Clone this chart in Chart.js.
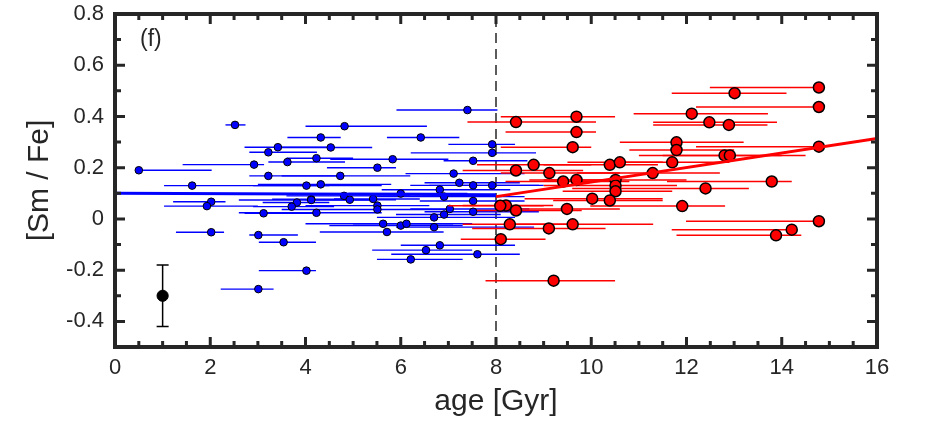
<!DOCTYPE html>
<html>
<head>
<meta charset="utf-8">
<script src="https://cdn.jsdelivr.net/npm/chart.js@4.4.1/dist/chart.umd.min.js"></script>
<style>
  html, body { margin: 0; padding: 0; background: #fff; }
  #wrap { width: 928px; height: 429px; }
</style>
</head>
<body>
<div id="wrap"><canvas id="ismfe" width="928" height="429"></canvas></div>
<script>
// Thin disc stars (age < 8 Gyr)
const blueAge = [2.52, 3.42, 3.22, 2.92, 3.62, 3.22, 1.62, 0.50, 4.02, 2.02, 1.93, 3.82, 4.12, 3.71, 3.12, 2.02, 3.01, 3.54, 4.02, 3.01,
                 4.23, 7.40, 4.82, 4.32, 6.42, 4.53, 7.92, 7.92, 5.83, 7.52, 5.51, 4.73, 7.11, 4.32, 7.23, 7.52, 7.92, 6.82, 6.00, 4.81,
                 4.93, 5.42, 5.51, 5.51, 4.12, 6.91, 7.52, 7.03, 6.91, 7.52, 4.23, 6.70, 5.63, 6.00, 6.12, 6.70, 5.71, 6.82, 6.53, 7.61, 6.21];
const blueFe = [0.367, 0.280, 0.260, 0.212, 0.222, 0.168, 0.130, 0.190, 0.130, 0.067, 0.050, 0.064, 0.077, 0.048, 0.022, -0.052, -0.063, -0.091, -0.202, -0.274,
                0.237, 0.425, 0.362, 0.318, 0.318, 0.279, 0.291, 0.258, 0.233, 0.227, 0.200, 0.168, 0.177, 0.135, 0.141, 0.131, 0.131, 0.114, 0.099, 0.090,
                0.075, 0.078, 0.052, 0.037, 0.074, 0.087, 0.070, 0.039, 0.017, 0.028, 0.024, 0.006, -0.019, -0.026, -0.019, -0.032, -0.051, -0.103, -0.122, -0.138, -0.158];
const blueAgeLo = [2.32, 2.72, 2.82, 1.42, 3.22, 2.82, 1.03, 0.50, 2.90, 1.22, 1.03, 3.10, 3.30, 2.90, 2.72, 1.28, 2.82, 3.02, 3.02, 2.22,
                   3.60, 5.91, 4.00, 3.62, 5.71, 3.50, 7.00, 6.21, 4.52, 6.90, 4.45, 3.50, 6.10, 3.00, 6.50, 6.20, 6.60, 5.60, 4.90, 3.60,
                   4.00, 4.60, 4.00, 3.50, 2.60, 5.50, 6.40, 6.20, 5.90, 6.50, 2.60, 5.50, 4.00, 4.50, 5.00, 5.90, 4.30, 6.00, 5.40, 5.80, 5.50];
const blueAgeHi = [2.74, 4.62, 4.24, 3.13, 4.83, 4.71, 4.50, 2.03, 5.60, 2.32, 3.00, 4.50, 5.00, 4.60, 4.24, 2.29, 3.84, 4.22, 4.22, 3.33,
                   5.00, 8.03, 6.55, 4.74, 7.23, 5.40, 8.40, 8.84, 7.00, 8.66, 5.90, 6.20, 8.60, 5.80, 8.50, 8.90, 9.00, 8.30, 7.40, 6.20,
                   5.90, 6.40, 6.60, 7.00, 5.40, 8.60, 8.60, 8.70, 8.10, 8.90, 5.60, 8.40, 7.50, 7.30, 7.10, 8.80, 6.90, 8.40, 7.50, 8.50, 7.30];

// Thick disc stars (age > 8 Gyr)
const redAge = [9.69, 8.42, 9.69, 9.61, 8.79, 8.42, 9.12, 9.41, 9.69, 10.39, 10.60, 10.51, 10.51, 10.51, 10.02, 10.39, 11.29, 11.70, 11.79, 11.79,
                8.21, 8.42, 8.09, 9.49, 8.29, 9.11, 9.61, 8.10, 9.21, 11.91, 14.78, 13.01, 14.78, 12.11, 12.48, 12.89, 14.78, 12.80, 12.91, 13.79,
                12.40, 14.78, 14.21, 13.88];
const redFe = [0.399, 0.378, 0.339, 0.280, 0.211, 0.189, 0.179, 0.146, 0.152, 0.211, 0.221, 0.152, 0.130, 0.108, 0.079, 0.072, 0.179, 0.221, 0.299, 0.269,
               0.052, 0.033, 0.051, 0.039, -0.021, -0.037, -0.021, -0.079, -0.241, 0.050, 0.513, 0.491, 0.437, 0.411, 0.377, 0.367, 0.282, 0.248, 0.248, 0.146,
               0.119, -0.009, -0.042, -0.064];
const redAgeLo = [8.10, 7.40, 8.20, 8.10, 7.60, 7.30, 8.10, 8.20, 8.70, 9.00, 9.50, 9.00, 9.00, 9.40, 8.60, 9.20, 9.70, 10.30, 10.60, 10.80,
                  7.30, 7.60, 7.00, 8.50, 7.30, 7.50, 8.20, 7.26, 7.78, 9.98, 12.49, 11.69, 12.20, 10.89, 11.30, 11.30, 12.20, 11.00, 11.50, 11.59,
                  9.60, 11.99, 11.69, 11.79];
const redAgeHi = [10.50, 10.10, 10.10, 10.00, 10.00, 9.83, 10.60, 10.80, 10.60, 11.40, 11.50, 12.00, 11.80, 11.70, 11.50, 11.50, 12.70, 12.90, 13.20, 13.00,
                  9.20, 9.80, 9.00, 10.60, 9.50, 10.30, 11.30, 9.04, 10.50, 12.81, 14.78, 14.10, 14.78, 13.71, 13.90, 13.70, 14.78, 14.00, 14.50, 14.21,
                  13.31, 14.78, 14.20, 14.41];

// Linear fits and the separating age
const blueFitAge = [0, 8];
const blueFitFe = [0.100, 0.094];
const redFitAge = [8, 16];
const redFitFe = [0.087, 0.314];
const splitAge = [8, 8];
const splitFe = [-0.5, 0.8];

// Typical uncertainty
const typAge = [1];
const typFe = [-0.30];
const typErr = [0.12];

const xTicks = [0, 2, 4, 6, 8, 10, 12, 14, 16];
const yTicks = [-0.4, -0.2, 0, 0.2, 0.4, 0.6, 0.8];
const panelLabel = "(f)";

const INK = "#262626";
Chart.defaults.font.family = "'Liberation Sans', Arial, Helvetica, sans-serif";

function toPoints(xs, ys) {
    return xs.map((v, i) => ({ x: v, y: ys[i] }));
}

//Draws the age error bars (and the vertical bar of the typical point) under each dataset
const errorBars = {
    id: "errorBars",
    beforeDatasetDraw(chart, args) {
        const ds = chart.data.datasets[args.index];
        if (!ds.xLo && !ds.yErr) return;
        const { ctx, chartArea, scales: { x, y } } = chart;
        ctx.save();
        ctx.beginPath();
        ctx.rect(chartArea.left, chartArea.top, chartArea.width, chartArea.height);
        ctx.clip();
        ctx.strokeStyle = ds.errColor;
        ctx.lineWidth = ds.errWidth;
        ds.data.forEach((p, i) => {
            const px = x.getPixelForValue(p.x);
            const py = y.getPixelForValue(p.y);
            if (ds.xLo) {
                ctx.beginPath();
                ctx.moveTo(x.getPixelForValue(ds.xLo[i]), py);
                ctx.lineTo(x.getPixelForValue(ds.xHi[i]), py);
                ctx.stroke();
            }
            if (ds.yErr) {
                const top = y.getPixelForValue(p.y + ds.yErr[i]);
                const bot = y.getPixelForValue(p.y - ds.yErr[i]);
                ctx.beginPath();
                ctx.moveTo(px, top); ctx.lineTo(px, bot);
                ctx.moveTo(px - 6, top); ctx.lineTo(px + 6, top);
                ctx.moveTo(px - 6, bot); ctx.lineTo(px + 6, bot);
                ctx.stroke();
            }
        });
        ctx.restore();
    }
};

//Box with inward ticks on all four sides, plus the panel label
const boxFrame = {
    id: "boxFrame",
    afterDraw(chart) {
        const { ctx, chartArea: a, scales: { x, y } } = chart;
        ctx.save();
        ctx.strokeStyle = INK;
        ctx.lineWidth = 3;
        for (let v = 0; v <= 16.001; v += 0.5) {
            const px = x.getPixelForValue(v);
            const len = Math.abs(v % 2) < 0.01 ? 10 : 6;
            ctx.beginPath();
            ctx.moveTo(px, a.bottom); ctx.lineTo(px, a.bottom - len);
            ctx.moveTo(px, a.top); ctx.lineTo(px, a.top + len);
            ctx.stroke();
        }
        for (let k = -5; k <= 8; k++) {
            const py = y.getPixelForValue(k / 10);
            const len = k % 2 === 0 ? 10 : 6;
            ctx.beginPath();
            ctx.moveTo(a.left, py); ctx.lineTo(a.left + len, py);
            ctx.moveTo(a.right, py); ctx.lineTo(a.right - len, py);
            ctx.stroke();
        }
        ctx.lineWidth = 4;
        ctx.strokeRect(a.left, a.top, a.width, a.height);

        ctx.fillStyle = INK;
        ctx.font = "23px 'Liberation Sans', Arial, sans-serif";
        ctx.textAlign = "left";
        ctx.textBaseline = "middle";
        ctx.fillText(panelLabel, a.left + 25, a.top + 26);
        ctx.restore();
    }
};

new Chart("ismfe", {
    type: "scatter",
    data: {
        datasets: [
            {
                label: "split",
                data: toPoints(splitAge, splitFe),
                showLine: true,
                borderColor: INK,
                borderWidth: 1.5,
                borderDash: [10, 6],
                pointRadius: 0,
                order: 7
            },
            {
                label: "thin",
                data: toPoints(blueAge, blueFe),
                xLo: blueAgeLo,
                xHi: blueAgeHi,
                errColor: "#0000ff",
                errWidth: 1.4,
                backgroundColor: "#0000ff",
                borderColor: "#000000",
                borderWidth: 1,
                pointRadius: 3.8,
                order: 6
            },
            {
                label: "thick",
                data: toPoints(redAge, redFe),
                xLo: redAgeLo,
                xHi: redAgeHi,
                errColor: "#ff0000",
                errWidth: 1.5,
                backgroundColor: "#ff0000",
                borderColor: "#000000",
                borderWidth: 1.5,
                pointRadius: 5.5,
                order: 5
            },
            {
                label: "thin fit",
                data: toPoints(blueFitAge, blueFitFe),
                showLine: true,
                borderColor: "#0000ff",
                borderWidth: 3,
                pointRadius: 0,
                order: 4
            },
            {
                label: "thick fit",
                data: toPoints(redFitAge, redFitFe),
                showLine: true,
                borderColor: "#ff0000",
                borderWidth: 3,
                pointRadius: 0,
                order: 3
            },
            {
                label: "typical error",
                data: toPoints(typAge, typFe),
                yErr: typErr,
                errColor: "#000000",
                errWidth: 1.5,
                backgroundColor: "#000000",
                borderColor: "#000000",
                borderWidth: 1,
                pointRadius: 5.6,
                order: 1
            }
        ]
    },
    options: {
        responsive: false,
        animation: false,
        events: [],
        devicePixelRatio: 1,
        layout: { padding: { top: 14, right: 51, bottom: 0, left: 0 } },
        plugins: { legend: { display: false }, tooltip: { enabled: false } },
        scales: {
            x: {
                type: "linear",
                min: 0,
                max: 16,
                grid: { display: false, drawTicks: false },
                border: { display: false },
                afterBuildTicks: s => { s.ticks = xTicks.map(v => ({ value: v })); },
                afterFit: s => { s.height = 82; s.paddingLeft = 0; s.paddingRight = 0; },
                ticks: { color: INK, font: { size: 22 }, padding: 8, maxRotation: 0 },
                title: { display: true, text: "age [Gyr]", color: INK, font: { size: 30 }, padding: { top: 0, bottom: 9 } }
            },
            y: {
                type: "linear",
                min: -0.5,
                max: 0.8,
                grid: { display: false, drawTicks: false },
                border: { display: false },
                afterBuildTicks: s => { s.ticks = yTicks.map(v => ({ value: v })); },
                afterFit: s => { s.width = 115; s.paddingTop = 0; s.paddingBottom = 0; },
                ticks: { color: INK, font: { size: 22 }, padding: 11, callback: v => String(Math.round(v * 10) / 10) },
                title: { display: true, text: "[Sm / Fe]", color: INK, font: { size: 30 }, padding: { top: 22, bottom: 0 } }
            }
        }
    },
    plugins: [errorBars, boxFrame]
});
</script>
</body>
</html>
